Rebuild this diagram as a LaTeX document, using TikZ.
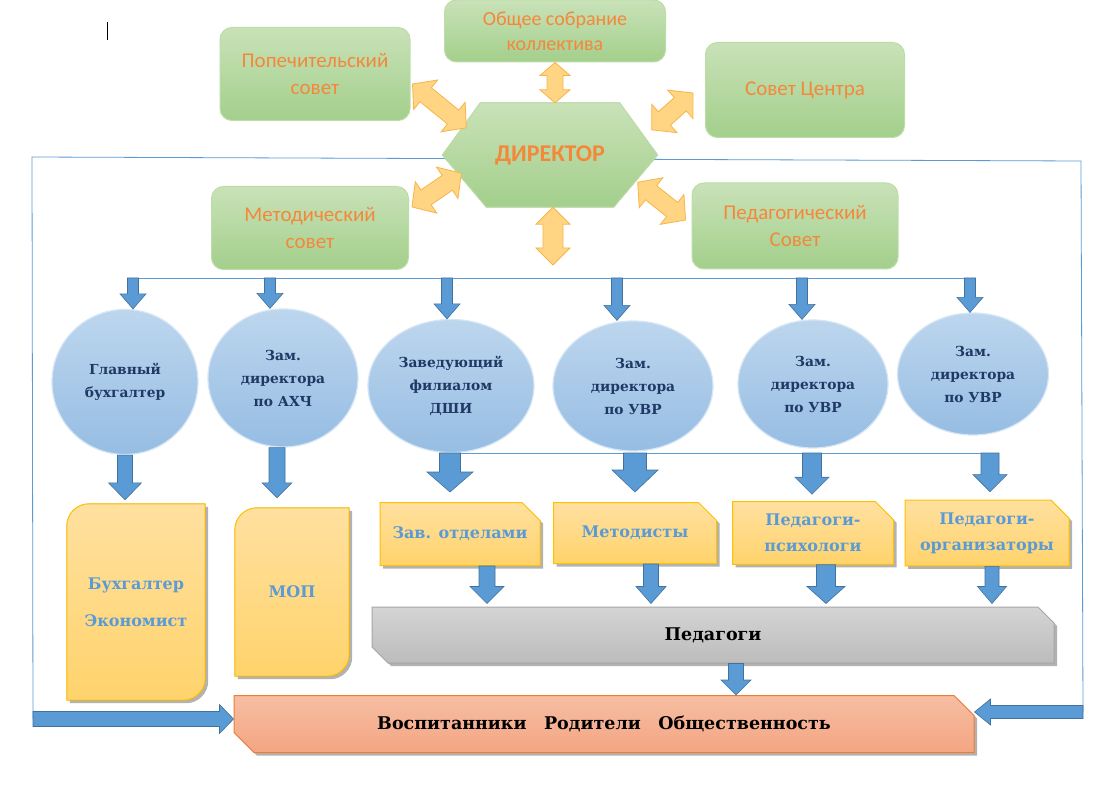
\documentclass[tikz,border=0pt]{standalone}
\usepackage{fontspec}
\setmainfont{DejaVu Serif}
\newfontfamily\calibri{Carlito}
\usetikzlibrary{calc,shapes.geometric,shapes.misc,shadows,backgrounds}
\definecolor{grtop}{HTML}{C9E2B8}
\definecolor{grbot}{HTML}{A3CF8B}
\definecolor{grline}{HTML}{BCDDA8}
\definecolor{ortext}{HTML}{F5873B}
\definecolor{orfill}{HTML}{FFD584}
\definecolor{orline}{HTML}{F7B448}
\definecolor{bltop}{HTML}{BDD6EE}
\definecolor{blbot}{HTML}{96BDE3}
\definecolor{blline}{HTML}{D6E6F5}
\definecolor{posttext}{HTML}{1F3864}
\definecolor{arrfill}{HTML}{5B9BD5}
\definecolor{arrline}{HTML}{41719C}
\definecolor{yetop}{HTML}{FFE09F}
\definecolor{yebot}{HTML}{FFD36C}
\definecolor{yeline}{HTML}{FFC000}
\definecolor{gytop}{HTML}{D4D4D4}
\definecolor{gybot}{HTML}{BCBCBC}
\definecolor{gyline}{HTML}{A6A6A6}
\definecolor{rdtop}{HTML}{F6BEA3}
\definecolor{rdbot}{HTML}{F4A582}
\definecolor{rdline}{HTML}{ED7D31}
\tikzset{
  barrow/.style args={#1/#2/#3}{fill=arrfill, draw=arrline, line width=0.6pt,
    to path={($(\tikztostart)!#1!90:(\tikztotarget)$)
      -- ($(\tikztotarget)!#3!(\tikztostart)!#1!-90:(\tikztostart)$)
      -- ($(\tikztotarget)!#3!(\tikztostart)!#2!-90:(\tikztostart)$)
      -- (\tikztotarget)
      -- ($(\tikztotarget)!#3!(\tikztostart)!#2!90:(\tikztostart)$)
      -- ($(\tikztotarget)!#3!(\tikztostart)!#1!90:(\tikztostart)$)
      -- ($(\tikztostart)!#1!-90:(\tikztotarget)$) -- cycle}},
  darrow/.style args={#1/#2/#3}{fill=orfill, draw=orline, line width=0.8pt,
    to path={(\tikztostart)
      -- ($(\tikztostart)!#3!(\tikztotarget)!#2!90:(\tikztotarget)$)
      -- ($(\tikztostart)!#3!(\tikztotarget)!#1!90:(\tikztotarget)$)
      -- ($(\tikztotarget)!#3!(\tikztostart)!#1!-90:(\tikztostart)$)
      -- ($(\tikztotarget)!#3!(\tikztostart)!#2!-90:(\tikztostart)$)
      -- (\tikztotarget)
      -- ($(\tikztotarget)!#3!(\tikztostart)!#2!90:(\tikztostart)$)
      -- ($(\tikztotarget)!#3!(\tikztostart)!#1!90:(\tikztostart)$)
      -- ($(\tikztostart)!#3!(\tikztotarget)!#1!-90:(\tikztotarget)$)
      -- ($(\tikztostart)!#3!(\tikztotarget)!#2!-90:(\tikztotarget)$)
      -- cycle}},
  council/.style={rounded corners=12pt, top color=grtop, bottom color=grbot, draw=grline, line width=1pt,
    text=ortext, font=\calibri\fontsize{21}{27}\selectfont, align=center},
  hexa/.style={top color=grtop, bottom color=grbot, draw=grline, line width=1pt},
  post/.style={ellipse, inner sep=0pt, top color=bltop, bottom color=blbot, draw=blline, line width=1.2pt,
    text=posttext, font=\bfseries\fontsize{13.8}{23}\selectfont, align=center},
  yshadow/.style={drop shadow={shadow xshift=3pt, shadow yshift=-3pt, opacity=0.3, fill=black}},
  ytext/.style={text=arrfill, font=\bfseries\fontsize{16}{26}\selectfont, align=center},
  yround/.style={top color=yetop, bottom color=yebot, draw=yeline, line width=1pt, yshadow},
  ysnip/.style={ytext, chamfered rectangle, chamfered rectangle corners={north east}, chamfered rectangle xsep=9pt,
    chamfered rectangle ysep=9pt, top color=yetop, bottom color=yebot, draw=yeline, line width=1pt, yshadow},
  frame/.style={draw=arrfill, line width=0.8pt},
}
\begin{document}
\begin{tikzpicture}[x=1pt,y=-1pt]
\useasboundingbox (0,0) rectangle (1111,786);
\node[council, minimum width=190pt, minimum height=93pt] (popech) at (315,74) {Попечительский\\совет};
\node[council, minimum width=221pt, minimum height=62pt, font=\calibri\fontsize{20}{25}\selectfont] (sobranie) at (555,31) {Общее собрание\\коллектива};
\node[council, minimum width=199pt, minimum height=95pt] (sovet) at (805,90) {Совет Центра};
\node[council, minimum width=197pt, minimum height=83pt] (metod) at (310,228) {Методический\\совет};
\node[council, minimum width=206pt, minimum height=86pt] (pedsovet) at (795,226) {Педагогический\\Совет};
\node[minimum width=215pt, minimum height=104pt, text=ortext, font=\calibri\bfseries\fontsize{24}{28}\selectfont] (director) at (550,155) {ДИРЕКТОР};
\coordinate (fl) at (32,157);
\coordinate (fr) at (1081,161);
\coordinate (fbl) at (33,719);
\coordinate (fbr) at (1083,712);
\coordinate (dlow) at (553,265);
\draw[darrow=8pt/15pt/13pt] (sobranie.south) to (sobranie.south |- director.north);
\draw[darrow=10pt/17pt/17pt] (dlow |- director.south) to (dlow);
\draw[darrow=9pt/19pt/17pt] ([shift={(2,10)}]popech.east) to ([shift={(24,25)}]director.north west);
\draw[darrow=9pt/19pt/17pt] ([shift={(-12,3)}]sovet.west) to ([shift={(-6,27)}]director.north east);
\draw[darrow=9pt/19pt/17pt] ([shift={(3,-21)}]metod.east) to ([shift={(19,-34)}]director.south west);
\draw[darrow=9pt/19pt/17pt] ([shift={(-20,-25)}]director.south east) to ([shift={(-6,-6)}]pedsovet.west);
\node[post, minimum width=146pt, minimum height=145pt] (buh) at (125,382) {Главный\\бухгалтер};
\node[post, minimum width=150pt, minimum height=138pt] (ahch) at (283,378) {Зам.\\директора\\по АХЧ};
\node[post, minimum width=166pt, minimum height=133pt] (dshi) at (451,386) {Заведующий\\филиалом\\ДШИ};
\node[post, minimum width=160pt, minimum height=130pt] (uvr1) at (633,386) {Зам.\\директора\\по УВР};
\node[post, minimum width=150pt, minimum height=128pt] (uvr2) at (813,384) {Зам.\\директора\\по УВР};
\node[post, minimum width=151pt, minimum height=122pt] (uvr3) at (973,374) {Зам.\\директора\\по УВР};
\foreach \x [count=\i] in {133,270,447,617,802,970} \coordinate (t\i) at (\x,278);
\draw[frame] ([xshift=-5pt]t1) -- ([xshift=5pt]t6);
\foreach \c [count=\i] in {buh,ahch,dshi,uvr1,uvr2,uvr3} \draw[barrow=5.5pt/13pt/15pt] (t\i) to (t\i |- \c.north);
\node[ytext, minimum width=138pt, minimum height=196pt] (buhec) at (136,602) {Бухгалтер\\[11pt]Экономист};
\node[ytext, minimum width=114pt, minimum height=168pt] (mop) at (292,592) {МОП};
\node[ysnip, minimum width=160pt, minimum height=63pt] (zav) at (460,534) {Зав. отделами};
\node[ysnip, minimum width=163pt, minimum height=61pt] (metodisty) at (635,533) {Методисты};
\node[ysnip, minimum width=161pt, minimum height=62pt] (psych) at (813,533) {Педагоги-\\психологи};
\node[ysnip, minimum width=164pt, minimum height=63pt] (org) at (987,533) {Педагоги-\\организаторы};
\node[chamfered rectangle, chamfered rectangle corners={north east,south west}, chamfered rectangle xsep=8pt,
  chamfered rectangle ysep=8pt, top color=gytop, bottom color=gybot, draw=gyline, line width=1pt, yshadow,
  font=\bfseries\fontsize{17.5}{21}\selectfont, minimum width=682pt, minimum height=56pt] (pedagogi) at (713,635) {Педагоги};
\node[chamfered rectangle, chamfered rectangle corners={north east,south west}, chamfered rectangle xsep=10pt,
  chamfered rectangle ysep=10pt, top color=rdtop, bottom color=rdbot, draw=rdline, line width=1pt, yshadow,
  font=\bfseries\fontsize{17.5}{21}\selectfont, minimum width=740pt, minimum height=57pt] (vosp) at (604,724) {Воспитанники\quad Родители\quad Общественность};
\foreach \x [count=\i from 3] in {450,635,812,990} \coordinate (b\i) at (\x,453);
\draw[frame] (b3) -- (b6);
\coordinate (a2) at (277,0);
\draw[barrow=7.5pt/16.5pt/17pt] (buh.south) to ($(buh.south |- buhec.north)+(0,-4)$);
\draw[barrow=8pt/15pt/15pt] (a2 |- ahch.south) to ($(a2 |- mop.north)+(0,-10)$);
\draw[barrow=10.5pt/23pt/20pt] (b3) to ($(b3 |- zav.north)+(0,-10)$);
\draw[barrow=11.5pt/23pt/22pt] (b4) to ($(b4 |- metodisty.north)+(0,-10)$);
\draw[barrow=9.5pt/17pt/17pt] (b5) to ($(b5 |- psych.north)+(0,-7)$);
\draw[barrow=9pt/17pt/17pt] (b6) to ($(b6 |- org.north)+(0,-8)$);
\foreach \x/\b/\w/\h [count=\i] in {487/zav/8pt/17pt,651/metodisty/7.5pt/15pt,826/psych/9.5pt/19pt,992/org/7pt/14.5pt} {
  \coordinate (p\i) at (\x,0);
  \draw[barrow=\w/\h/17pt] (p\i |- \b.south) to ($(p\i |- pedagogi.north)+(0,-3)$);
}
\coordinate (pv) at (736,0);
\draw[barrow=7.5pt/15pt/15pt] (pv |- pedagogi.south) to (pv |- vosp.north);
\draw[barrow=7.5pt/14.5pt/14pt] (fbl) to (vosp.west |- fbl);
\draw[barrow=6.5pt/13pt/16pt] (fbr) to (vosp.east |- fbr);
\begin{scope}[on background layer]
\fill[white] (0,0) rectangle (1111,786);
\draw[frame] (fbl) -- (fl) -- (fr) -- (fbr);
\filldraw[hexa] ([xshift=38pt]director.north west) -- ([xshift=-38pt]director.north east) -- (director.east)
  -- ([xshift=-44pt]director.south east) -- ([xshift=44pt]director.south west) -- (director.west) -- cycle;
\foreach \b in {buhec,mop}
  \filldraw[yround] (\b.south west) -- ([yshift=-22pt]\b.north west)
    .. controls ([yshift=-10pt]\b.north west) and ([xshift=10pt]\b.north west) .. ([xshift=22pt]\b.north west)
    -- (\b.north east) -- ([yshift=22pt]\b.south east)
    .. controls ([yshift=10pt]\b.south east) and ([xshift=-10pt]\b.south east) .. ([xshift=-22pt]\b.south east) -- cycle;
\draw[line width=0.8pt] (107,22) -- (107,40);
\end{scope}
\end{tikzpicture}
\end{document}
